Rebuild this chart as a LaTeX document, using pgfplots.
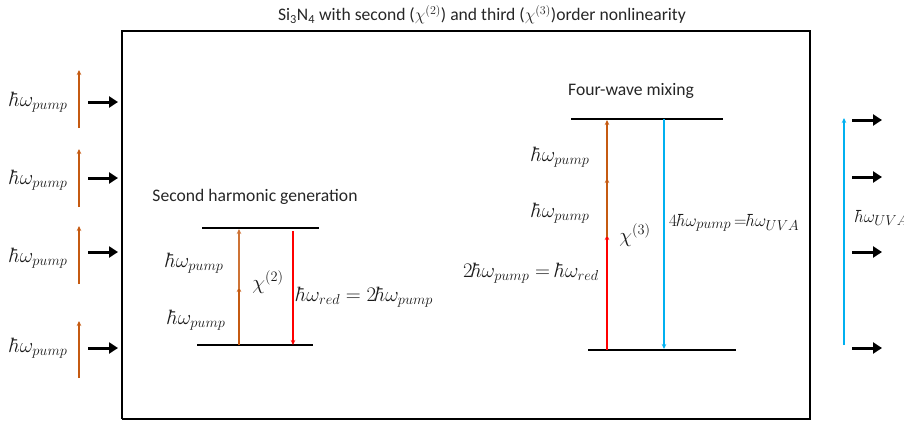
\documentclass[border=0pt]{standalone}
\usepackage{pgfplots}
\pgfplotsset{compat=1.18}
\usepackage{fontspec}
\setmainfont{Carlito}
\usetikzlibrary{arrows.meta}
\definecolor{pumporange}{HTML}{C55A11}
\definecolor{uvblue}{HTML}{00B0F0}
\definecolor{redline}{HTML}{FF0000}
\tikzset{
  txt/.style={font=\fontsize{17.6}{20}\selectfont, text=black!85, inner sep=0pt},
  mth/.style={font=\fontsize{20}{23}\selectfont, text=black!90, inner sep=0pt},
  thinarrow/.style={line width=1.3pt, -{Stealth[length=5pt,width=4.5pt]}},
  fatarrow/.style={black, line width=3pt, -{Triangle[length=9pt,width=11pt]}},
  level/.style={black, line width=1.5pt},
}
\begin{document}
\begin{tikzpicture}
\begin{axis}[scale only axis, width=904pt, height=421pt,
  xmin=0, xmax=904, ymin=0, ymax=421, y dir=reverse,
  hide axis, clip=false]
\coordinate (TL) at (axis cs:0,0);
\coordinate (BR) at (axis cs:904,421);
% sample box
\addplot[black, line width=2.6pt] coordinates {(122,419) (122,31) (810,31) (810,419) (122,419)};
% input pump photons
\addplot[pumporange, thinarrow] coordinates {(79,128) (79,70)};
\addplot[pumporange, thinarrow] coordinates {(79,207) (79,149)};
\addplot[pumporange, thinarrow] coordinates {(79,284) (79,226)};
\addplot[pumporange, thinarrow] coordinates {(79,378) (79,321)};
\addplot[fatarrow] coordinates {(88,102) (118,102)};
\addplot[fatarrow] coordinates {(88,178) (118,178)};
\addplot[fatarrow] coordinates {(88,252) (118,252)};
\addplot[fatarrow] coordinates {(88,348) (118,348)};
% output UVA photons
\addplot[uvblue, thinarrow] coordinates {(844,345) (844,118)};
\addplot[fatarrow] coordinates {(852,120) (882,120)};
\addplot[fatarrow] coordinates {(852,177) (882,177)};
\addplot[fatarrow] coordinates {(852,252) (882,252)};
\addplot[fatarrow] coordinates {(852,348) (882,348)};
% SHG
\addplot[level] coordinates {(202,228) (319,228)};
\addplot[level] coordinates {(197,345) (313,345)};
\addplot[pumporange, thinarrow] coordinates {(239,345) (239,287)};
\addplot[pumporange!85, line width=1.1pt, -{Stealth[length=5pt,width=4.5pt]}] coordinates {(239,289) (239,229)};
\addplot[redline, thinarrow] coordinates {(293,231) (293,345)};
% FWM
\addplot[level] coordinates {(571,119) (723,119)};
\addplot[level] coordinates {(588,350) (736,350)};
\addplot[redline, thinarrow] coordinates {(607,350) (607,235)};
\addplot[pumporange, thinarrow] coordinates {(607,237) (607,178)};
\addplot[pumporange, thinarrow] coordinates {(607,180) (607,120)};
\addplot[uvblue, thinarrow] coordinates {(664,119) (664,349)};
% text
\node[txt] at (axis cs:482,15) {Si\textsubscript{3}N\textsubscript{4} with second ($\chi^{(2)}$) and third ($\chi^{(3)}$)order nonlinearity};
\node[txt] at (axis cs:255,197) {Second harmonic generation};
\node[txt] at (axis cs:631,91) {Four-wave mixing};
\node[mth] at (axis cs:39,102) {$\hbar\omega_{pump}$};
\node[mth] at (axis cs:39,180) {$\hbar\omega_{pump}$};
\node[mth] at (axis cs:39,258) {$\hbar\omega_{pump}$};
\node[mth] at (axis cs:39,348) {$\hbar\omega_{pump}$};
\node[mth] at (axis cs:195,263) {$\hbar\omega_{pump}$};
\node[mth] at (axis cs:197,320) {$\hbar\omega_{pump}$};
\node[mth] at (axis cs:268,282) {$\chi^{(2)}$};
\node[mth, anchor=west] at (axis cs:297,297) {$\hbar\omega_{red} = 2\hbar\omega_{pump}$};
\node[mth] at (axis cs:561,157) {$\hbar\omega_{pump}$};
\node[mth] at (axis cs:561,213) {$\hbar\omega_{pump}$};
\node[mth] at (axis cs:635,235) {$\chi^{(3)}$};
\node[mth, anchor=east] at (axis cs:599,273) {$2\hbar\omega_{pump} = \hbar\omega_{red}$};
\node[mth, anchor=west, font=\fontsize{19}{22}\selectfont] at (axis cs:669,223) {$4\hbar\omega_{pump}\,{=}\hbar\omega_{UVA}$};
\node[mth, anchor=west, font=\fontsize{19}{22}\selectfont] at (axis cs:855,218) {$\hbar\omega_{UVA}$};
\end{axis}
\pgfresetboundingbox
\useasboundingbox (TL) rectangle (BR);
\end{tikzpicture}
\end{document}
